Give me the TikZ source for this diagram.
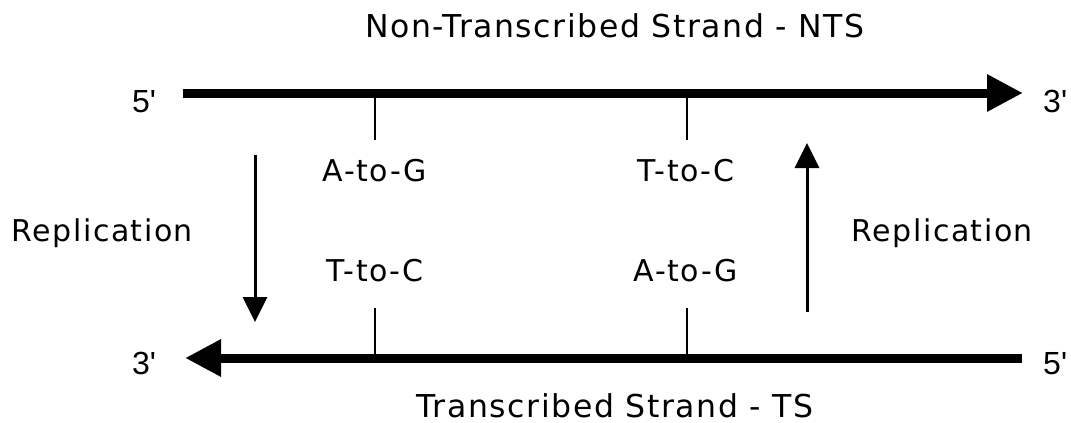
\documentclass[tikz,border=0pt]{standalone}
\usepackage{fontspec}
\setmainfont{DejaVu Sans}[LetterSpace=5]
\newfontfamily\endfont{Liberation Sans}
\usetikzlibrary{arrows.meta}
\begin{document}
\begin{tikzpicture}[x=1pt,y=-1pt,
  lbl/.style={font=\fontsize{30}{36}\selectfont, inner sep=0pt, anchor=base},
  ttl/.style={font=\fontsize{31.5}{38}\selectfont, inner sep=0pt, anchor=base},
  endlbl/.style={font=\endfont\fontsize{32}{38}\selectfont, inner sep=0pt, anchor=base west},
  strand/.style={line width=9pt, -{Triangle[length=36pt,width=35pt]}},
  tick/.style={line width=2pt},
  rep/.style={line width=3pt, -{Triangle[length=25pt,width=24pt]}}]
\useasboundingbox (0,0) rectangle (1071,423);
% titles
\node[ttl] (nts) at (615,37.7) {Non-Transcribed Strand - NTS};
\node[ttl] (ts) at (615,417) {Transcribed Strand - TS};
% end labels
\node[endlbl] (t5) at (132,112) {5'};
\node[endlbl] (t3) at (1043,112) {3'};
\node[endlbl] (b3) at (132,374) {3'};
\node[endlbl] (b5) at (1043,374) {5'};
% strand coordinates
\coordinate (ts0) at (183,93);
\coordinate (ts1) at (1023,93);
\coordinate (bs0) at (1022,358);
\coordinate (bs1) at (185,358);
\draw[strand] (ts0) -- (ts1);
\draw[strand] (bs0) -- (bs1);
% ticks
\coordinate (ta1) at (375,97);  \coordinate (ta2) at (375,140);
\coordinate (tb1) at (687,97);  \coordinate (tb2) at (687,140);
\coordinate (ba1) at (375,308); \coordinate (ba2) at (375,354);
\coordinate (bb1) at (687,308); \coordinate (bb2) at (687,354);
\draw[tick] (ta1) -- (ta2);
\draw[tick] (tb1) -- (tb2);
\draw[tick] (ba1) -- (ba2);
\draw[tick] (bb1) -- (bb2);
% mutation labels
\node[lbl] (m1) at (375,181.7) {A-to-G};
\node[lbl] (m2) at (686,181.7) {T-to-C};
\node[lbl] (m3) at (375,281) {T-to-C};
\node[lbl] (m4) at (686,281) {A-to-G};
% replication
\node[lbl, anchor=base west] (r1) at (11.7,241.7) {Replication};
\node[lbl, anchor=base west] (r2) at (851.7,241.7) {Replication};
\coordinate (d0) at (255,155); \coordinate (d1) at (255,322);
\coordinate (u0) at (807,312); \coordinate (u1) at (807,143);
\draw[rep] (d0) -- (d1);
\draw[rep] (u0) -- (u1);
\end{tikzpicture}
\end{document}
